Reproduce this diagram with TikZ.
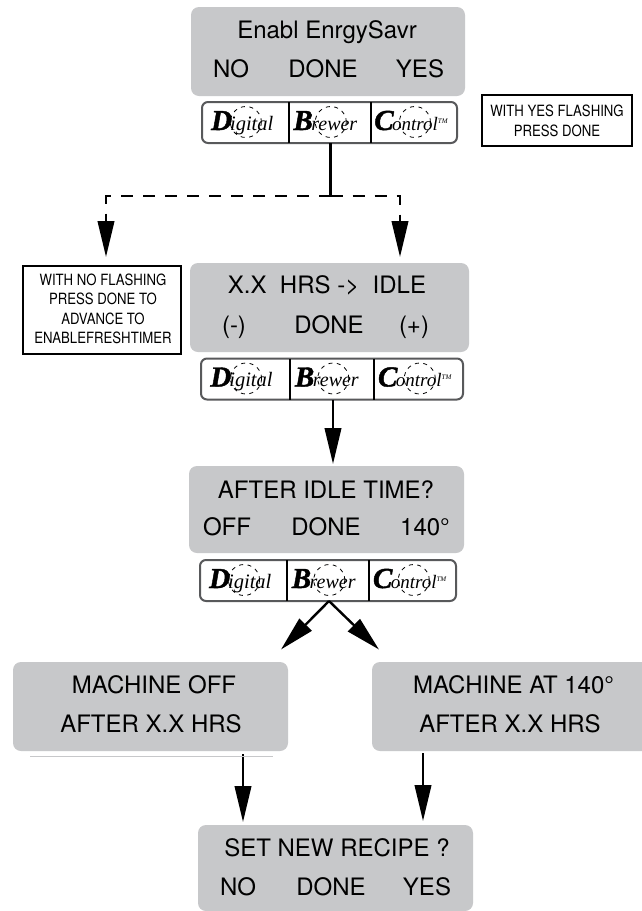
\documentclass[tikz,border=0pt]{standalone}
\usepackage{fontspec}
\setmainfont{TeX Gyre Heros}
\newfontfamily\logoserif[Ligatures=NoCommon]{Liberation Serif}
\newfontfamily\logobig[FakeBold=1.5]{Liberation Serif Bold Italic}
\newfontfamily\notefont[FakeStretch=0.85]{TeX Gyre Heros}
\usetikzlibrary{arrows.meta}
\definecolor{lcdgray}{HTML}{C7C8CA}
\definecolor{logoedge}{HTML}{58595B}
\tikzset{
  lcd/.style={fill=lcdgray,draw=none,rounded corners=8pt,inner sep=0pt},
  lcdtext/.style={anchor=base,inner sep=0pt,font=\fontsize{24}{27}\selectfont},
  notebox/.style={draw=black,line width=2.2pt,fill=white,inner sep=0pt},
  notetext/.style={anchor=base,inner sep=0pt,font=\notefont\fontsize{15.5}{18}\selectfont},
  logobox/.style={draw=logoedge,line width=2pt,fill=white,rounded corners=6pt,inner sep=0pt},
  logodiv/.style={draw=black,line width=2pt},
  logoring/.style={draw=black,line width=0.8pt,dash pattern=on 4pt off 4.5pt},
  logotext/.style={anchor=base west,inner sep=0pt},
  flow/.style={draw=black,line width=2.4pt,-{Triangle[length=36pt,width=16.5pt]}},
  flowshort/.style={draw=black,line width=2.4pt,-{Triangle[length=35pt,width=17pt]}},
  flowdash/.style={flow,dash pattern=on 12pt off 10pt},
}
% name, left x, top y, width
\newcommand{\brewerlogo}[4]{%
  \node[logobox,minimum width=#4pt,minimum height=41pt] (#1) at ({#2+#4/2},{#3+20.5}) {};
  \draw[logodiv] ({#2+#4*.341},#3) -- ({#2+#4*.341},{#3+41});
  \draw[logodiv] ({#2+#4*.662},#3) -- ({#2+#4*.662},{#3+41});
  \draw[logoring] ({#2+#4*.172},{#3+20}) circle[radius=15.5];
  \draw[logoring] ({#2+#4*.505},{#3+20}) circle[radius=15.5];
  \draw[logoring] ({#2+#4*.835},{#3+20}) circle[radius=15.5];
  \node[logotext] (#1d) at ({#2+#4*.035},{#3+28}) {\logobig\fontsize{29}{29}\selectfont D\kern-2pt\logoserif\itshape\fontsize{20.5}{20}\selectfont igital};
  \node[logotext] (#1b) at ({#2+#4*.358},{#3+28}) {\logobig\fontsize{29}{29}\selectfont B\kern-1.5pt\logoserif\itshape\fontsize{20}{20}\selectfont rewer};
  \node[logotext] (#1c) at ({#2+#4*.675},{#3+28}) {\logobig\fontsize{29}{29}\selectfont C\kern-1.5pt\logoserif\itshape\fontsize{19}{19}\selectfont ontrol\raisebox{7pt}{\fontsize{7}{7}\selectfont TM}};
}
\begin{document}
\begin{tikzpicture}[x=1pt,y=-1pt]
\clip (0,0) rectangle (642,911);
\fill[white] (0,0) rectangle (642,911);

% Display boxes
\node[lcd,minimum width=274pt,minimum height=89pt] (d1) at (328,51.5) {};
\node[lcd,minimum width=279pt,minimum height=89pt] (d2) at (329.5,307.5) {};
\node[lcd,minimum width=275pt,minimum height=87pt] (d3) at (326.5,509.5) {};
\node[lcd,minimum width=275pt,minimum height=89pt] (d4) at (150.5,706.5) {};
\node[lcd,minimum width=280pt,minimum height=89pt] (d5) at (512,706.5) {};
\node[lcd,minimum width=275pt,minimum height=86pt] (d6) at (335.5,868) {};

% Display texts
\node[lcdtext] (t1a) at (327,38) {Enabl EnrgySavr};
\node[lcdtext] (t1b) at (231,77) {NO};
\node[lcdtext] (t1c) at (323,77) {DONE};
\node[lcdtext] (t1d) at (420,77) {YES};

\node[lcdtext] (t2a) at (327,293) {X.X\ \ HRS ->\ \ IDLE};
\node[lcdtext] (t2b) at (234,333) {(-)};
\node[lcdtext] (t2c) at (329,333) {DONE};
\node[lcdtext] (t2d) at (414,333) {(+)};

\node[lcdtext] (t3a) at (326,498) {AFTER IDLE TIME?};
\node[lcdtext] (t3b) at (227,535) {OFF};
\node[lcdtext] (t3c) at (326,535) {DONE};
\node[lcdtext] (t3d) at (425,535) {140°};

\node[lcdtext] (t4a) at (154,693) {MACHINE OFF};
\node[lcdtext] (t4b) at (151,732) {AFTER X.X HRS};
\node[lcdtext] (t5a) at (513.5,693) {MACHINE AT 140°};
\node[lcdtext] (t5b) at (510,732) {AFTER X.X HRS};

\node[lcdtext] (t6a) at (337,856) {SET NEW RECIPE ?};
\node[lcdtext] (t6b) at (238,895) {NO};
\node[lcdtext] (t6c) at (331,895) {DONE};
\node[lcdtext] (t6d) at (427,895) {YES};

% Logos
\brewerlogo{lg1}{202}{102}{255}
\brewerlogo{lg2}{201}{358.5}{262}
\brewerlogo{lg3}{200}{560}{256}

% Notes
\node[notebox,minimum width=150pt,minimum height=51pt] (n1) at (557,120.5) {};
\node[notetext] (n1a) at (557,116) {WITH YES FLASHING};
\node[notetext] (n1b) at (557,136) {PRESS DONE};
\node[notebox,minimum width=158pt,minimum height=88pt] (n2) at (102,310) {};
\node[notetext] (n2a) at (103,285) {WITH NO FLASHING};
\node[notetext] (n2b) at (103,304.5) {PRESS DONE TO};
\node[notetext] (n2c) at (103,324) {ADVANCE TO};
\node[notetext] (n2d) at (103,343) {ENABLEFRESHTIMER};

% Free ends
\coordinate (s1) at (330.5,143);
\coordinate (j) at (330.5,196);
\coordinate (tipL) at (106,257);
\coordinate (tipR) at (400,257);
\coordinate (s2) at (333,399.5);
\coordinate (tip2) at (333,464);
\coordinate (s3) at (329,601);
\coordinate (tip3L) at (281,649.5);
\coordinate (tip3R) at (379,649.5);
\coordinate (s4) at (243,754);
\coordinate (tip4) at (243,822);
\coordinate (s5) at (423,753);
\coordinate (tip5) at (423,821);
\coordinate (ruleA) at (30,756);
\coordinate (ruleB) at (273,756);

% Connectors
\draw[line width=2.4pt] (s1) -- (j);
\draw[flowdash] (j) -| (tipL);
\draw[flowdash] (j) -| (tipR);
\draw[flow] (s2) -- (tip2);
\draw[flowshort] (s3) -- (tip3L);
\draw[flowshort] (s3) -- (tip3R);
\draw[flow] (s4) -- (tip4);
\draw[flow] (s5) -- (tip5);
\draw[draw=lcdgray,line width=0.8pt] (ruleA) -- (ruleB);
\end{tikzpicture}
\end{document}
